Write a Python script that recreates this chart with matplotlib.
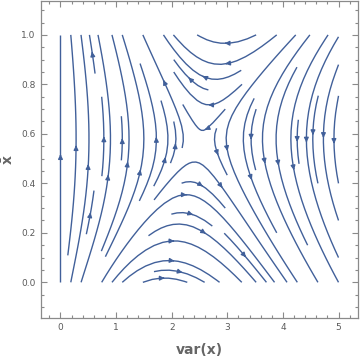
import numpy as np
import matplotlib
matplotlib.use("Agg")
import matplotlib.pyplot as plt
from matplotlib.ticker import MultipleLocator

# ---- data / field description ----
var_range = [0.0, 5.0]          # var(x) domain of the stream field
xbar_range = [0.0, 1.0]         # x-bar domain of the stream field
saddle_xbar = 0.58              # x-bar where d var/dt changes sign
null_var0 = 1.85                # d xbar/dt = 0 line: var = null_var0 + null_slope * xbar
null_slope = 1.15
gain = 0.17                     # relative speed of x-bar
x_ticks = [0, 1, 2, 3, 4, 5]
y_ticks = [0.0, 0.2, 0.4, 0.6, 0.8, 1.0]
x_label = "var(x)"
y_label = r"$\mathbf{\bar{x}}$"

line_color = "#41609a"
frame_color = "#8a8a8a"
text_color = "#5a5a5a"

fig = plt.figure(figsize=(3.60, 3.59), dpi=100)
ax = fig.add_axes([41.3 / 360, 1 - 317.7 / 359, (357.7 - 41.3) / 360, (316.7) / 359])

v = np.linspace(var_range[0], var_range[1], 201)
m = np.linspace(xbar_range[0], xbar_range[1], 201)
V, M = np.meshgrid(v, m)
U = np.sqrt(V) * (saddle_xbar - M)
W = gain * (null_var0 + null_slope * M - V)

ax.streamplot(V, M, U, W, density=(0.95, 0.72), color=line_color, linewidth=1.0,
              arrowsize=0.65, arrowstyle="-|>", minlength=0.15)

ax.set_xlim(-0.345, 5.345)
ax.set_ylim(-0.143, 1.137)
ax.set_xticks(x_ticks)
ax.set_yticks(y_ticks)
ax.set_yticklabels([f"{t:.1f}" for t in y_ticks])
ax.xaxis.set_minor_locator(MultipleLocator(0.2))
ax.yaxis.set_minor_locator(MultipleLocator(0.05))
ax.tick_params(which="both", direction="in", top=True, right=True,
               color=frame_color, labelcolor=text_color, labelsize=6.5, width=0.8)
ax.tick_params(which="major", length=4, pad=4)
ax.tick_params(which="minor", length=2.2)
for s in ax.spines.values():
    s.set_color(frame_color)
    s.set_linewidth(0.9)
ax.set_xlabel(x_label, fontsize=10, fontweight="bold", color="#666666", labelpad=8)
fig.text(8 / 360, 1 - 160 / 359, y_label, fontsize=10, color="#666666",
         rotation=90, ha="center", va="center")

fig.savefig("out.png", dpi=100)
